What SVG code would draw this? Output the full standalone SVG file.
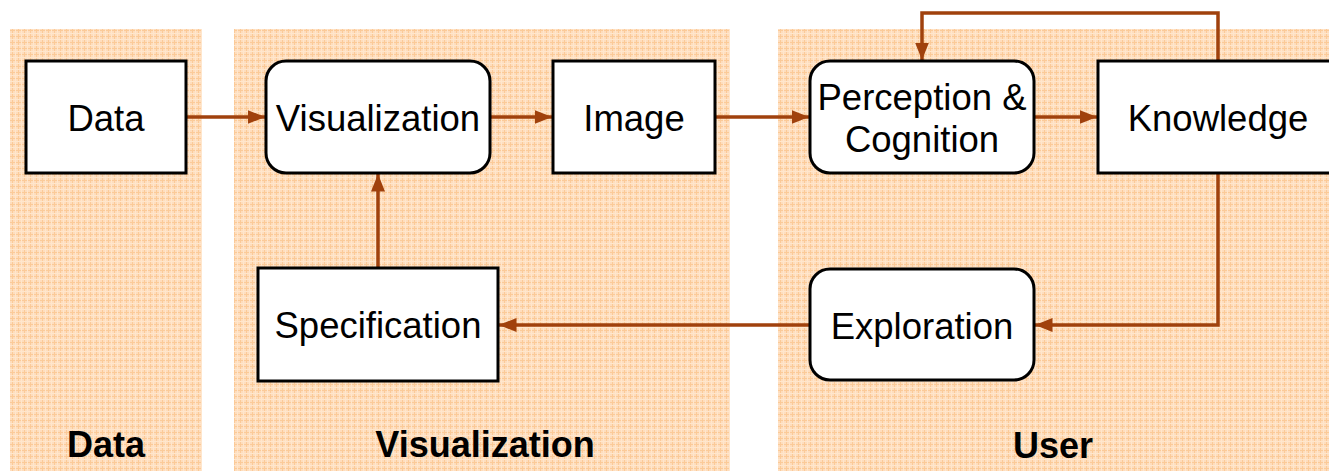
<svg xmlns="http://www.w3.org/2000/svg" width="1329" height="471" viewBox="0 0 1329 471">
<style>
.panel{fill:url(#grid);}
.box{fill:#fff;stroke:#000;stroke-width:3;}
.t{font-family:"Liberation Sans",Arial,sans-serif;font-size:36.5px;fill:#000;text-anchor:middle;}
.lbl{font-family:"Liberation Sans",Arial,sans-serif;font-size:36px;font-weight:bold;fill:#000;text-anchor:middle;}
.c{fill:none;stroke:#A0410D;stroke-width:3.5;marker-end:url(#ah);}
</style>
<defs>
<pattern id="grid" width="6" height="6" patternUnits="userSpaceOnUse">
<rect width="6" height="6" fill="#FEDDBD"/>
<path d="M0 0.5H6M0.5 0V6" stroke="#FBCA98" stroke-width="1"/>
<path d="M0 3.5H6M3.5 0V6" stroke="#FFE6CC" stroke-width="1"/>
</pattern>
<marker id="ah" markerWidth="5" markerHeight="4" refX="5" refY="2" orient="auto" markerUnits="strokeWidth">
<path d="M0 0L5 2L0 4Z" fill="#A0410D"/>
</marker>
</defs>
<g id="panels">
<rect class="panel" x="10" y="29" width="192" height="442"/>
<rect class="panel" x="234" y="29" width="496" height="442"/>
<rect class="panel" x="778" y="29" width="551" height="442"/>
<text class="lbl" x="106" y="457">Data</text>
<text class="lbl" x="485" y="457">Visualization</text>
<text class="lbl" x="1053" y="458">User</text>
</g>
<g id="connectors">
<path class="c" d="M186 117H265"/>
<path class="c" d="M490 117H552"/>
<path class="c" d="M715 117H809"/>
<path class="c" d="M1034 117H1097"/>
<path class="c" d="M1218 61V13H922V60"/>
<path class="c" d="M1218 173V325H1035"/>
<path class="c" d="M810 325H499"/>
<path class="c" d="M378 268V174"/>
</g>
<g id="node-data">
<rect class="box" x="26" y="61" width="160" height="112"/>
<text class="t" x="106" y="131">Data</text>
</g>
<g id="node-visualization">
<rect class="box" x="266" y="61" width="224" height="112" rx="20"/>
<text class="t" x="378" y="131">Visualization</text>
</g>
<g id="node-image">
<rect class="box" x="553" y="61" width="162" height="112"/>
<text class="t" x="634" y="131">Image</text>
</g>
<g id="node-perception">
<rect class="box" x="810" y="61" width="224" height="112" rx="20"/>
<text class="t" x="922" y="110">Perception &amp;</text>
<text class="t" x="922" y="152">Cognition</text>
</g>
<g id="node-knowledge">
<rect class="box" x="1098" y="61" width="240" height="112"/>
<text class="t" x="1218" y="131">Knowledge</text>
</g>
<g id="node-exploration">
<rect class="box" x="810" y="269" width="224" height="111" rx="20"/>
<text class="t" x="922" y="339">Exploration</text>
</g>
<g id="node-specification">
<rect class="box" x="258" y="268" width="240" height="113"/>
<text class="t" x="378" y="338">Specification</text>
</g>
</svg>
